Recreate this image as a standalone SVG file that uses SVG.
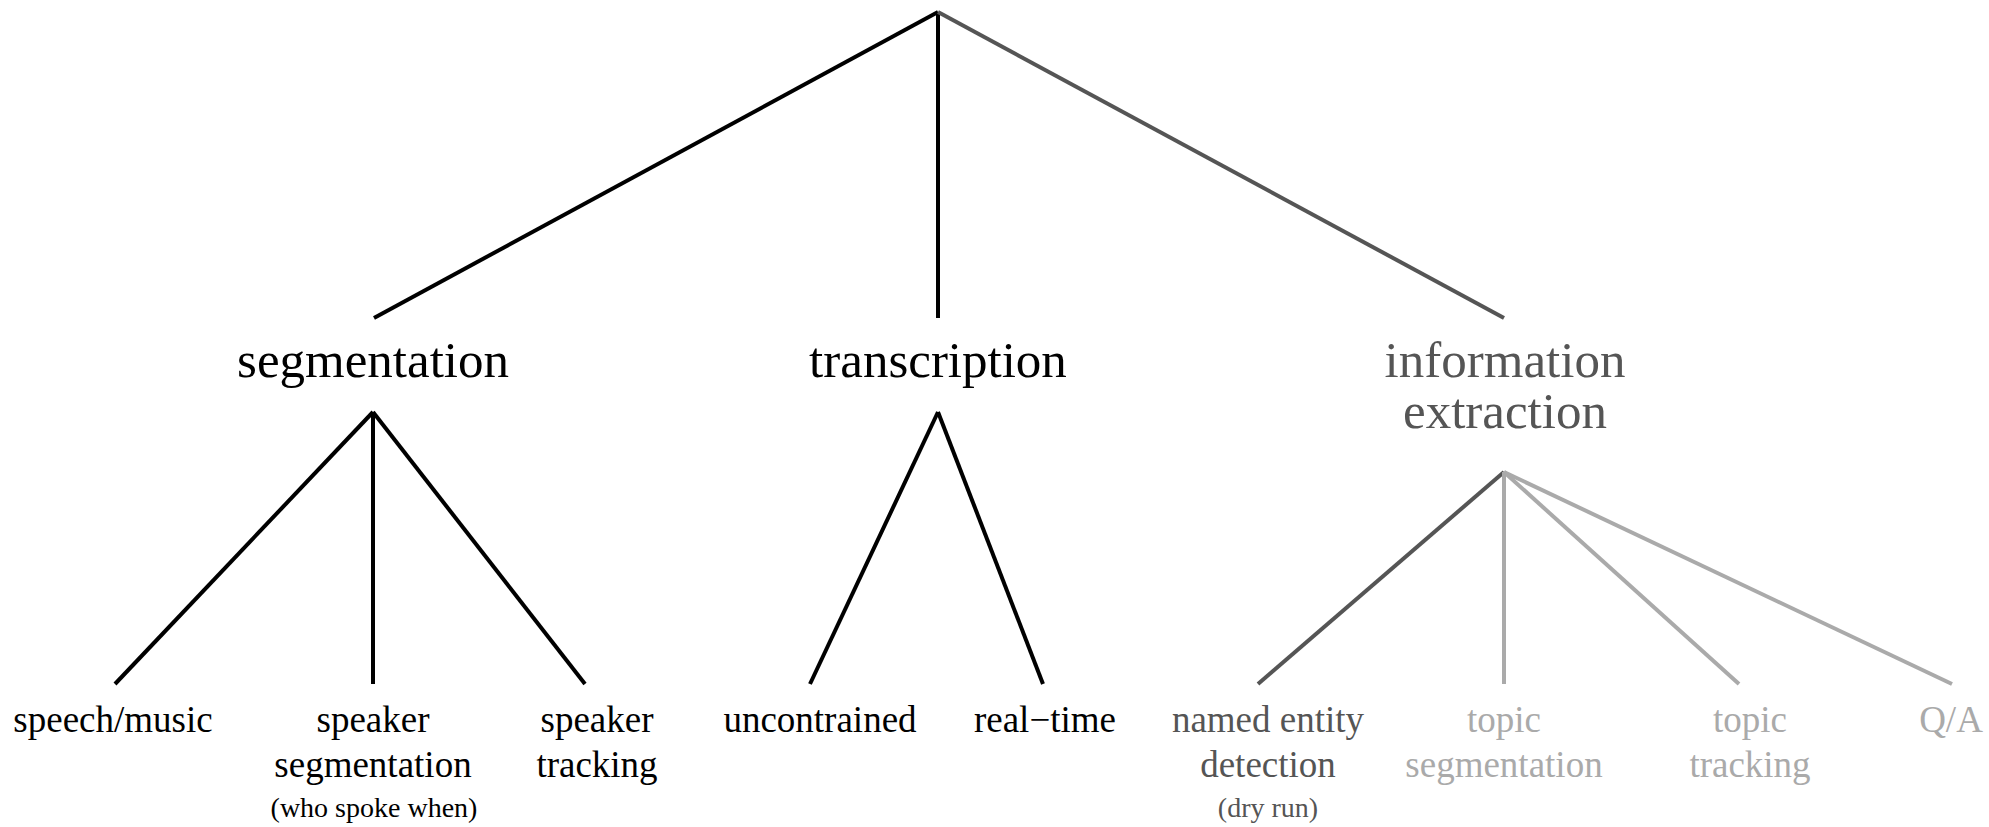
<svg xmlns="http://www.w3.org/2000/svg" width="1989" height="827" viewBox="0 0 1989 827">
<style>
text{font-family:"Liberation Serif","Times New Roman",serif;text-anchor:middle}
.l1{font-size:51px}
.l2{font-size:37px}
.note{font-size:28px}
.k{fill:#000}
.d{fill:#555}
.g{fill:#aaa}
line{stroke-width:4;stroke-linecap:butt}
.sk{stroke:#000}
.sd{stroke:#555}
.sg{stroke:#aaa}
</style>
<rect width="1989" height="827" fill="#fff"/>
<g id="connectors">
<line class="sk" x1="938" y1="12" x2="374" y2="318"/>
<line class="sk" x1="938" y1="12" x2="938" y2="318"/>
<line class="sd" x1="938" y1="12" x2="1504" y2="318"/>
<line class="sk" x1="373" y1="412" x2="115" y2="684"/>
<line class="sk" x1="373" y1="412" x2="373" y2="684"/>
<line class="sk" x1="373" y1="412" x2="585" y2="684"/>
<line class="sk" x1="938" y1="412" x2="810" y2="684"/>
<line class="sk" x1="938" y1="412" x2="1043" y2="684"/>
<line class="sd" x1="1504" y1="472" x2="1258" y2="684"/>
<line class="sg" x1="1504" y1="472" x2="1504" y2="684"/>
<line class="sg" x1="1504" y1="472" x2="1739" y2="684"/>
<line class="sg" x1="1504" y1="472" x2="1952" y2="684"/>
</g>
<g id="segmentation"><text class="l1 k" x="373" y="377">segmentation</text></g>
<g id="transcription"><text class="l1 k" x="938" y="377">transcription</text></g>
<g id="information-extraction"><text class="l1 d" x="1505" y="377">information</text><text class="l1 d" x="1505" y="428">extraction</text></g>
<g id="speech-music"><text class="l2 k" x="113" y="732">speech/music</text></g>
<g id="speaker-segmentation"><text class="l2 k" x="373" y="732">speaker</text><text class="l2 k" x="373" y="777">segmentation</text><text class="note k" x="374" y="817">(who spoke when)</text></g>
<g id="speaker-tracking"><text class="l2 k" x="597" y="732">speaker</text><text class="l2 k" x="597" y="777">tracking</text></g>
<g id="uncontrained"><text class="l2 k" x="820" y="732">uncontrained</text></g>
<g id="real-time"><text class="l2 k" x="1045" y="732">real−time</text></g>
<g id="named-entity"><text class="l2 d" x="1268" y="732">named entity</text><text class="l2 d" x="1268" y="777">detection</text><text class="note d" x="1268" y="817">(dry run)</text></g>
<g id="topic-segmentation"><text class="l2 g" x="1504" y="732">topic</text><text class="l2 g" x="1504" y="777">segmentation</text></g>
<g id="topic-tracking"><text class="l2 g" x="1750" y="732">topic</text><text class="l2 g" x="1750" y="777">tracking</text></g>
<g id="qa"><text class="l2 g" x="1951" y="732">Q/A</text></g>
</svg>
